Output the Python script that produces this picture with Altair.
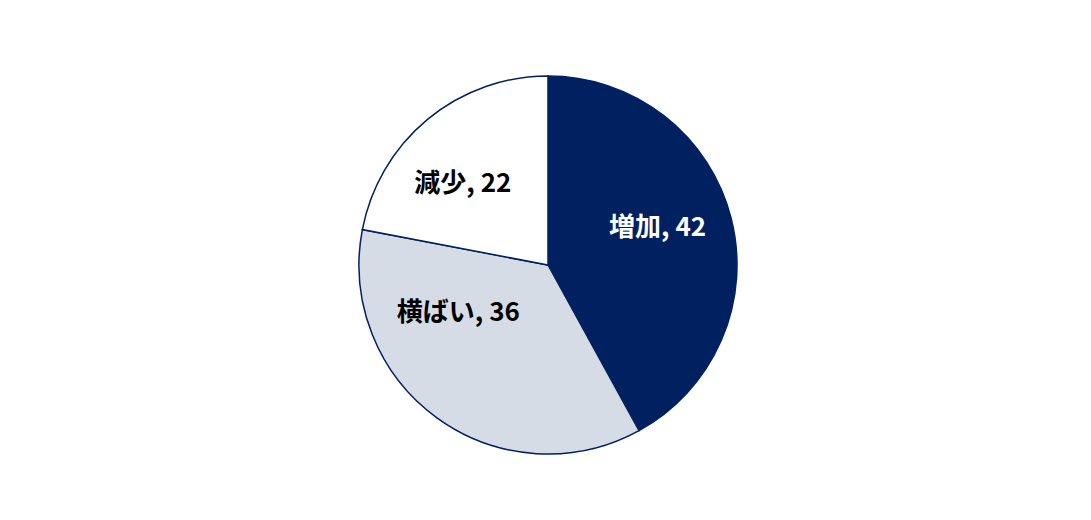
import altair as alt
import pandas as pd

categories = ["増加", "横ばい", "減少"]
values = [42, 36, 22]
fills = ["#002060", "#D6DCE5", "#FFFFFF"]
text_colors = ["#FFFFFF", "#000000", "#000000"]

df = pd.DataFrame({
    "cat": categories,
    "value": values,
    "order": list(range(len(categories))),
})
df["label"] = df["cat"] + ", " + df["value"].astype(str)
total = sum(values)

pie = alt.Chart(df).mark_arc(outerRadius=189, stroke="#002060", strokeWidth=1.5).encode(
    theta=alt.Theta("value:Q", stack=True),
    order=alt.Order("order:Q"),
    color=alt.Color("cat:N", scale=alt.Scale(domain=categories, range=fills), legend=None),
)

offsets = {"増加": (3, -10), "横ばい": (-25, -41), "減少": (-15, 4)}
layers = [pie]
for c, tc in zip(categories, text_colors):
    ox, oy = offsets[c]
    layers.append(
        alt.Chart(df)
        .transform_window(cum="sum(value)", sort=[alt.SortField("order")])
        .transform_calculate(mid="datum.cum - datum.value / 2")
        .transform_filter(alt.datum.cat == c)
        .mark_text(
            radius=110, dx=ox, dy=oy, fontSize=26, fontWeight="bold",
            font="Noto Sans CJK JP", color=tc, align="center", baseline="middle",
        )
        .encode(
            theta=alt.Theta("mid:Q", scale=alt.Scale(domain=[0, total]), stack=None),
            text="label:N",
        )
    )

chart = alt.layer(*layers).resolve_scale(theta="independent").properties(
    width=1070, height=494,
    padding={"left": 5, "top": 10, "right": 0, "bottom": 0},
    autosize=alt.AutoSizeParams(type="none"),
).configure_view(stroke=None)

chart.save("out.html", embed_options={"renderer": "svg", "actions": False})
